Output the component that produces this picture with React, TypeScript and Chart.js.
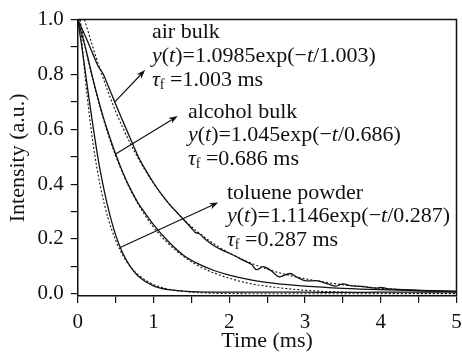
import React, { useEffect, useRef } from "react";
import { Chart, registerables } from "chart.js";

Chart.register(...registerables);

// ---- Data ----
const airT = [0, 0.1, 0.2, 0.27, 0.33, 0.4, 0.5, 0.6, 0.7, 0.8, 0.9, 1.0, 1.1, 1.2, 1.3, 1.4, 1.5, 1.55, 1.6, 1.7, 1.8, 1.9, 2.0, 2.1, 2.2, 2.3, 2.36, 2.45, 2.55, 2.66, 2.8, 2.9, 3.02, 3.15, 3.3, 3.41, 3.5, 3.6, 3.75, 3.94, 4.0, 4.1, 4.3, 4.5, 4.7, 5.0];
const airY = [1.0, 0.94, 0.875, 0.83, 0.805, 0.76, 0.692, 0.627, 0.563, 0.5, 0.45, 0.405, 0.365, 0.33, 0.3, 0.27, 0.24, 0.224, 0.22, 0.195, 0.175, 0.16, 0.148, 0.135, 0.12, 0.106, 0.088, 0.099, 0.085, 0.062, 0.074, 0.06, 0.047, 0.048, 0.036, 0.028, 0.036, 0.03, 0.027, 0.021, 0.023, 0.018, 0.015, 0.012, 0.01, 0.008];
const airFitT = [0.09, 0.2, 0.3, 0.4, 0.5, 0.6, 0.7, 0.8, 0.9, 1.0, 1.2, 1.4, 1.6, 1.8, 2.0, 2.25, 2.5, 2.75, 3.0, 3.25, 3.5, 3.75, 4.0, 4.5, 5.0];
const airFitY = [1.0, 0.9, 0.815, 0.737, 0.666, 0.603, 0.545, 0.493, 0.446, 0.403, 0.33, 0.271, 0.222, 0.182, 0.149, 0.116, 0.09, 0.07, 0.055, 0.043, 0.033, 0.026, 0.02, 0.012, 0.0075];

const alcT = [0, 0.1, 0.2, 0.3, 0.4, 0.5, 0.6, 0.7, 0.8, 0.9, 1.0, 1.2, 1.4, 1.6, 1.8, 2.0, 2.3, 2.6, 3.0, 3.5, 4.0, 4.5, 5.0];
const alcY = [1.0, 0.9, 0.785, 0.68, 0.59, 0.51, 0.44, 0.38, 0.33, 0.29, 0.252, 0.19, 0.14, 0.108, 0.085, 0.068, 0.05, 0.038, 0.028, 0.02, 0.015, 0.012, 0.01];
const alcFitT = [0.03, 0.1, 0.2, 0.3, 0.4, 0.5, 0.6, 0.7, 0.8, 0.9, 1.0, 1.2, 1.4, 1.6, 1.8, 2.0, 2.3, 2.6, 3.0, 3.5, 4.0, 5.0];
const alcFitY = [1.0, 0.9, 0.78, 0.675, 0.583, 0.504, 0.436, 0.377, 0.326, 0.282, 0.243, 0.182, 0.136, 0.101, 0.076, 0.057, 0.036, 0.024, 0.013, 0.006, 0.003, 0.001];

const tolT = [0, 0.05, 0.1, 0.15, 0.2, 0.25, 0.3, 0.4, 0.5, 0.6, 0.7, 0.8, 1.0, 1.2, 1.5, 2.0, 2.5, 3.0, 3.5, 4.0, 4.5, 5.0];
const tolY = [1.0, 0.91, 0.81, 0.71, 0.615, 0.525, 0.445, 0.315, 0.215, 0.145, 0.097, 0.064, 0.029, 0.015, 0.008, 0.006, 0.006, 0.006, 0.005, 0.006, 0.006, 0.006];
const tolFitT = [0.031, 0.1, 0.15, 0.2, 0.25, 0.3, 0.4, 0.5, 0.6, 0.7, 0.8, 0.9, 1.0, 1.2, 1.5, 2.0, 3.0, 5.0];
const tolFitY = [1.0, 0.785, 0.66, 0.553, 0.465, 0.39, 0.276, 0.196, 0.138, 0.097, 0.069, 0.049, 0.034, 0.017, 0.006, 0.001, 0.0, 0.0];

const xTickValues = [0, 0.5, 1, 1.5, 2, 2.5, 3, 3.5, 4, 4.5, 5];
const xTickLabels = ["0", "", "1", "", "2", "", "3", "", "4", "", "5"];
const yTickValues = [0, 0.1, 0.2, 0.3, 0.4, 0.5, 0.6, 0.7, 0.8, 0.9, 1.0];
const yTickLabels = ["0.0", "", "0.2", "", "0.4", "", "0.6", "", "0.8", "", "1.0"];

// annotation content
const sampleNames = ["air bulk", "alcohol bulk", "toluene powder"];
const fitAmps = ["1.0985", "1.045", "1.1146"];
const fitTaus = ["1.003", "0.686", "0.287"];
// annotation anchors (data units)
const labelX = [0.98, 1.455, 1.97];
const labelRowsY = [
  [0.953, 0.865, 0.778],
  [0.664, 0.578, 0.491],
  [0.368, 0.282, 0.195],
];
const arrowTail = [[0.49, 0.70], [0.49, 0.508], [0.56, 0.169]];
const arrowHead = [[0.89, 0.816], [1.32, 0.648], [1.855, 0.333]];

const FONT = "'Liberation Serif', 'Times New Roman', serif";
const INK = "#111";

type Run = { t: string; i?: boolean; sub?: boolean };

function drawRuns(ctx: CanvasRenderingContext2D, runs: Run[], x: number, y: number, size: number) {
  let cx = x;
  for (const r of runs) {
    const fs = r.sub ? Math.round(size * 0.62) : size;
    ctx.font = `${r.i ? "italic " : ""}${fs}px ${FONT}`;
    ctx.fillText(r.t, cx, r.sub ? y + size * 0.22 : y);
    cx += ctx.measureText(r.t).width;
  }
}

const overlay = {
  id: "overlay",
  afterDraw(chart: any) {
    const { ctx, chartArea: a, scales } = chart;
    const xs = scales.x;
    const ys = scales.y;
    ctx.save();
    // top & right frame
    ctx.strokeStyle = INK;
    ctx.lineWidth = 1.5;
    ctx.beginPath();
    ctx.moveTo(a.left, a.top);
    ctx.lineTo(a.right, a.top);
    ctx.lineTo(a.right, a.bottom);
    ctx.stroke();

    // arrows
    ctx.lineWidth = 1.2;
    ctx.fillStyle = INK;
    for (let k = 0; k < arrowTail.length; k++) {
      const x0 = xs.getPixelForValue(arrowTail[k][0]);
      const y0 = ys.getPixelForValue(arrowTail[k][1]);
      const x1 = xs.getPixelForValue(arrowHead[k][0]);
      const y1 = ys.getPixelForValue(arrowHead[k][1]);
      const ang = Math.atan2(y1 - y0, x1 - x0);
      const L = 9, W = 3.2;
      ctx.beginPath();
      ctx.moveTo(x0, y0);
      ctx.lineTo(x1 - Math.cos(ang) * L * 0.6, y1 - Math.sin(ang) * L * 0.6);
      ctx.stroke();
      ctx.beginPath();
      ctx.moveTo(x1, y1);
      ctx.lineTo(x1 - Math.cos(ang) * L - Math.sin(ang) * W, y1 - Math.sin(ang) * L + Math.cos(ang) * W);
      ctx.lineTo(x1 - Math.cos(ang) * L * 0.7, y1 - Math.sin(ang) * L * 0.7);
      ctx.lineTo(x1 - Math.cos(ang) * L + Math.sin(ang) * W, y1 - Math.sin(ang) * L - Math.cos(ang) * W);
      ctx.closePath();
      ctx.fill();
    }

    // annotation text
    ctx.textBaseline = "middle";
    ctx.textAlign = "left";
    const size = 22;
    for (let k = 0; k < sampleNames.length; k++) {
      const x = xs.getPixelForValue(labelX[k]);
      const rows = labelRowsY[k].map((v) => ys.getPixelForValue(v));
      drawRuns(ctx, [{ t: sampleNames[k] }], x, rows[0], size);
      drawRuns(
        ctx,
        [
          { t: "y", i: true },
          { t: "(" },
          { t: "t", i: true },
          { t: ")=" + fitAmps[k] + "exp(\u2212" },
          { t: "t", i: true },
          { t: "/" + fitTaus[k] + ")" },
        ],
        x,
        rows[1],
        size
      );
      drawRuns(ctx, [{ t: "\u03c4", i: true }, { t: "f", sub: true }, { t: " =" + fitTaus[k] + " ms" }], x, rows[2], size);
    }
    ctx.restore();
  },
};

function pts(t: number[], y: number[]) {
  return t.map((v, i) => ({ x: v, y: y[i] }));
}

export default function App() {
  const ref = useRef<HTMLCanvasElement | null>(null);
  useEffect(() => {
    document.body.style.margin = "0";
    const canvas = ref.current!;
    const solid = { borderColor: INK, borderWidth: 1.3, pointRadius: 0, cubicInterpolationMode: "monotone" as const, fill: false };
    const dotted = { borderColor: INK, borderWidth: 1.1, borderDash: [2, 2], pointRadius: 0, cubicInterpolationMode: "monotone" as const, fill: false };
    const chart = new Chart(canvas, {
      type: "line",
      data: {
        datasets: [
          { label: "air bulk", data: pts(airT, airY), ...solid },
          { label: "air bulk fit", data: pts(airFitT, airFitY), ...dotted },
          { label: "alcohol bulk", data: pts(alcT, alcY), ...solid },
          { label: "alcohol bulk fit", data: pts(alcFitT, alcFitY), ...dotted },
          { label: "toluene powder", data: pts(tolT, tolY), ...solid },
          { label: "toluene powder fit", data: pts(tolFitT, tolFitY), ...dotted },
        ],
      },
      options: {
        animation: false,
        responsive: false,
        devicePixelRatio: 1,
        layout: { padding: { top: 17, right: 0, left: 0, bottom: 0 } },
        plugins: { legend: { display: false }, tooltip: { enabled: false } },
        scales: {
          x: {
            type: "linear",
            min: 0,
            max: 5,
            afterBuildTicks: (s: any) => {
              s.ticks = xTickValues.map((v) => ({ value: v }));
            },
            afterFit: (s: any) => {
              s.height = 58;
              s.paddingRight = 5.5;
              s.paddingLeft = 0;
            },
            ticks: {
              autoSkip: false,
              maxRotation: 0,
              padding: 7,
              color: INK,
              font: { family: FONT, size: 21 },
              callback: (_v: any, i: number) => xTickLabels[i],
            },
            grid: { drawOnChartArea: false, tickLength: 7, color: INK, lineWidth: 1.2 },
            border: { display: true, color: INK, width: 1.5 },
            title: { display: true, text: "Time (ms)", color: INK, font: { family: FONT, size: 22 }, padding: { top: 0, bottom: 0 } },
          },
          y: {
            type: "linear",
            min: -0.008,
            max: 1.0,
            afterBuildTicks: (s: any) => {
              s.ticks = yTickValues.map((v) => ({ value: v }));
            },
            afterFit: (s: any) => {
              s.width = 77.7;
            },
            ticks: {
              autoSkip: false,
              padding: 7,
              color: INK,
              font: { family: FONT, size: 21 },
              callback: (_v: any, i: number) => yTickLabels[i],
            },
            grid: { drawOnChartArea: false, tickLength: 7, color: INK, lineWidth: 1.2 },
            border: { display: true, color: INK, width: 1.5 },
            title: { display: true, text: "Intensity (a.u.)", color: INK, font: { family: FONT, size: 22 }, padding: { top: 5, bottom: 0 } },
          },
        },
      },
      plugins: [overlay],
    });
    return () => chart.destroy();
  }, []);
  return <canvas ref={ref} width={462} height={354} style={{ display: "block" }} />;
}
